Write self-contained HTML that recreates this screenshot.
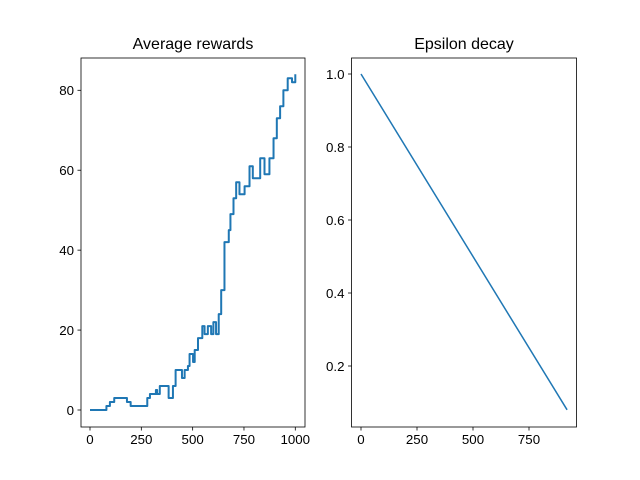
<!DOCTYPE html>
<html><head><meta charset="utf-8"><style>
body{margin:0;background:#fff}
svg{display:block;font-family:"Liberation Sans","DejaVu Sans",sans-serif}
</style></head><body>
<svg id="fig" width="640" height="480" xmlns="http://www.w3.org/2000/svg">
<rect width="640" height="480" fill="#fff"/>
</svg>
<script>
// Rewards chart data
const rewardEpisodes=[0,78,80,97,118,178,180,198,263,279,292,321,327,340,364,383,404,417,436,448,461,477,485,502,510,526,547,558,574,590,601,614,627,639,655,676,684,699,712,728,753,777,793,829,850,874,894,910,926,942,963,984,1000];
const rewardValues=[0,0,1,2,3,3,2,1,1,3,4,5,4,6,6,3,6,10,10,8,10,11,14,12,15,18,21,19,21,19,22,19,24,30,42,45,49,53,57,54,56,61,58,63,59,63,68,73,76,80,83,82,84];
const rewardXTicks=[0,250,500,750,1000];
const rewardYTicks=[0,20,40,60,80];
// Epsilon chart data
const epsEpisodes=[0,920];
const epsValues=[1.0,0.08];
const epsXTicks=[0,250,500,750];
const epsYTicks=[0.2,0.4,0.6,0.8];
const epsYTickLabels=["0.2","0.4","0.6","0.8","1.0"];

const NS="http://www.w3.org/2000/svg";
const svg=document.getElementById('fig');
function mk(tag,attrs,parent){const e=document.createElementNS(NS,tag);for(const k in attrs)e.setAttribute(k,attrs[k]);(parent||svg).appendChild(e);return e;}

function drawChart(cfg){
  const g=mk('g',{});
  
  
  const sx=v=>cfg.x0px+(v-cfg.x0v)*(cfg.x1px-cfg.x0px)/(cfg.x1v-cfg.x0v);
  const sy=v=>cfg.y0px+(v-cfg.y0v)*(cfg.y1px-cfg.y0px)/(cfg.y1v-cfg.y0v);
  let d='';
  cfg.xs.forEach((x,i)=>{
    const X=sx(x).toFixed(2),Y=sy(cfg.ys[i]).toFixed(2);
    if(i===0) d+='M'+X+','+Y;
    else if(cfg.step) d+='H'+X+'V'+Y;
    else d+='L'+X+','+Y;
  });
  const p=mk('path',{d:d,fill:'none',stroke:'#1f77b4','stroke-width':cfg.lw||1.5,'stroke-linejoin':'round'},g);
  
  
  const f=mk('rect',{x:cfg.L,y:cfg.T,width:cfg.R-cfg.L,height:cfg.B-cfg.T,fill:'none',stroke:'#000','stroke-width':0.8},g);
  
  
  cfg.xt.forEach(v=>{
    const x=sx(v);
    mk('line',{x1:x,x2:x,y1:cfg.B,y2:cfg.B+3.5,stroke:'#000','stroke-width':0.8},g);
    const t=mk('text',{x:x,y:cfg.B+17,'text-anchor':'middle','font-size':'13.3px',fill:'#000'},g);
    t.textContent=String(v);
    
    
  });
  cfg.yt.forEach((v,i)=>{
    const y=sy(v);
    mk('line',{x1:cfg.L-3.5,x2:cfg.L,y1:y,y2:y,stroke:'#000','stroke-width':0.8},g);
    const t=mk('text',{x:cfg.L-7,y:y+4.8,'text-anchor':'end','font-size':'13.3px',fill:'#000'},g);
    t.textContent=cfg.ytl?cfg.ytl[i]:String(v);
    
    
  });
  const ti=mk('text',{x:(cfg.L+cfg.R)/2,y:cfg.T-9,'text-anchor':'middle','font-size':'16px',fill:'#000'},g);
  ti.textContent=cfg.title;
  
  
}
drawChart({name:'rewards-chart',title:'Average rewards',L:81,R:305,T:58,B:427,step:true,lw:2,
  x0v:0,x1v:1000,x0px:90,x1px:295.3,y0v:0,y1v:80,y0px:410,y1px:90.3,
  xs:rewardEpisodes,ys:rewardValues,xt:rewardXTicks,yt:rewardYTicks});
drawChart({name:'epsilon-chart',title:'Epsilon decay',L:351.5,R:576.5,T:58,B:427,
  x0v:0,x1v:750,x0px:361,x1px:529,y0v:1.0,y1v:0.2,y0px:74,y1px:366,
  xs:epsEpisodes,ys:epsValues,xt:epsXTicks,yt:epsYTicks.concat([1.0]),ytl:epsYTickLabels});
</script>
</body></html>
